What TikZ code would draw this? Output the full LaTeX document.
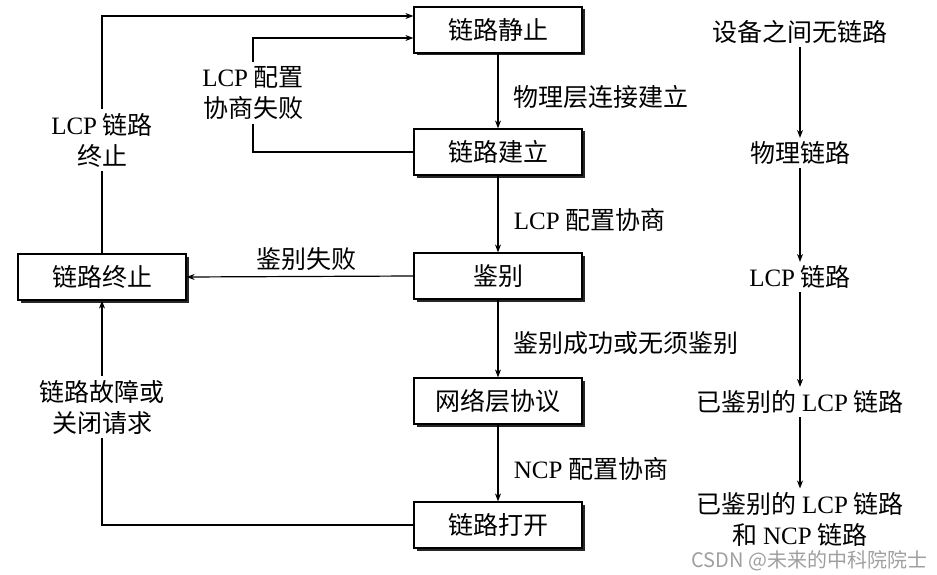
\documentclass[tikz,border=0pt]{standalone}
\usepackage{fontspec}
\setmainfont{Noto Sans CJK SC}
\newfontfamily\lat{Liberation Serif}
\usetikzlibrary{arrows.meta, positioning, shadows}

\begin{document}
\begin{tikzpicture}[>={Stealth[length=8pt,width=6pt]}, x=1pt, y=-1pt,
    font=\fontsize{25}{31}\selectfont,
    state/.style={draw, line width=1.2pt, fill=white, minimum width=168pt, minimum height=46pt,
        drop shadow={shadow xshift=2.5pt, shadow yshift=-2.5pt, fill=black!85, opacity=1}},
    lbl/.style={inner sep=4pt, align=center},
    line/.style={line width=1.2pt}]
    \useasboundingbox (0,0) rectangle (937,575);

    \node[state] (quiet) at (498,30) {链路静止};
    \node[state] (estab) at (498,152) {链路建立};
    \node[state] (auth) at (498,276) {鉴别};
    \node[state] (netp) at (498,401) {网络层协议};
    \node[state] (open) at (498,525) {链路打开};
    \node[state] (term) at (102,277) {链路终止};

    \node[lbl] (lcpend) at (102,140) {{\lat LCP} 链路\\终止};
    \node[lbl] (lcpfail) at (253,93) {{\lat LCP} 配置\\协商失败};
    \node[lbl] (fault) at (102,407) {链路故障或\\关闭请求};

    \draw[line,->] (quiet) -- node[right=12pt, pos=0.58] {物理层连接建立} (estab);
    \draw[line,->] (estab) -- node[right=12pt, pos=0.58] {{\lat LCP} 配置协商} (auth);
    \draw[line,->] (auth) -- node[right=12pt, pos=0.56] {鉴别成功或无须鉴别} (netp);
    \draw[line,->] (netp) -- node[right=12pt, pos=0.58] {{\lat NCP} 配置协商} (open);

    \draw[line] (term.north) -- (lcpend.south);
    \draw[line,->] (lcpend.north) |- ([yshift=14pt]quiet.west);
    \draw[line] (estab.west) -| (lcpfail.south);
    \draw[line,->] (lcpfail.north) |- ([yshift=-8pt]quiet.west);
    \draw[line,->] (auth.west) -- node[above=2pt, pos=0.47] {鉴别失败} (term.east);
    \draw[line] (open.west) -| (fault.south);
    \draw[line,->] (fault.north) -- (term.south);

    \node (s1) at (800,32) {设备之间无链路};
    \node (s2) at (800,153) {物理链路};
    \node (s3) at (800,277) {{\lat LCP} 链路};
    \node (s4) at (800,402) {已鉴别的 {\lat LCP} 链路};
    \node[align=center] (s5) at (800,519) {已鉴别的 {\lat LCP} 链路\\和 {\lat NCP} 链路};
    \draw[line,->] (s1) -- (s2);
    \draw[line,->] (s2) -- (s3);
    \draw[line,->] (s3) -- (s4);
    \draw[line,->] (s4) -- (s5);

    \node[text=gray!75, font=\fontsize{20}{24}\selectfont, anchor=west] (mark) at (688,561) {CSDN @未来的中科院院士};
\end{tikzpicture}
\end{document}
